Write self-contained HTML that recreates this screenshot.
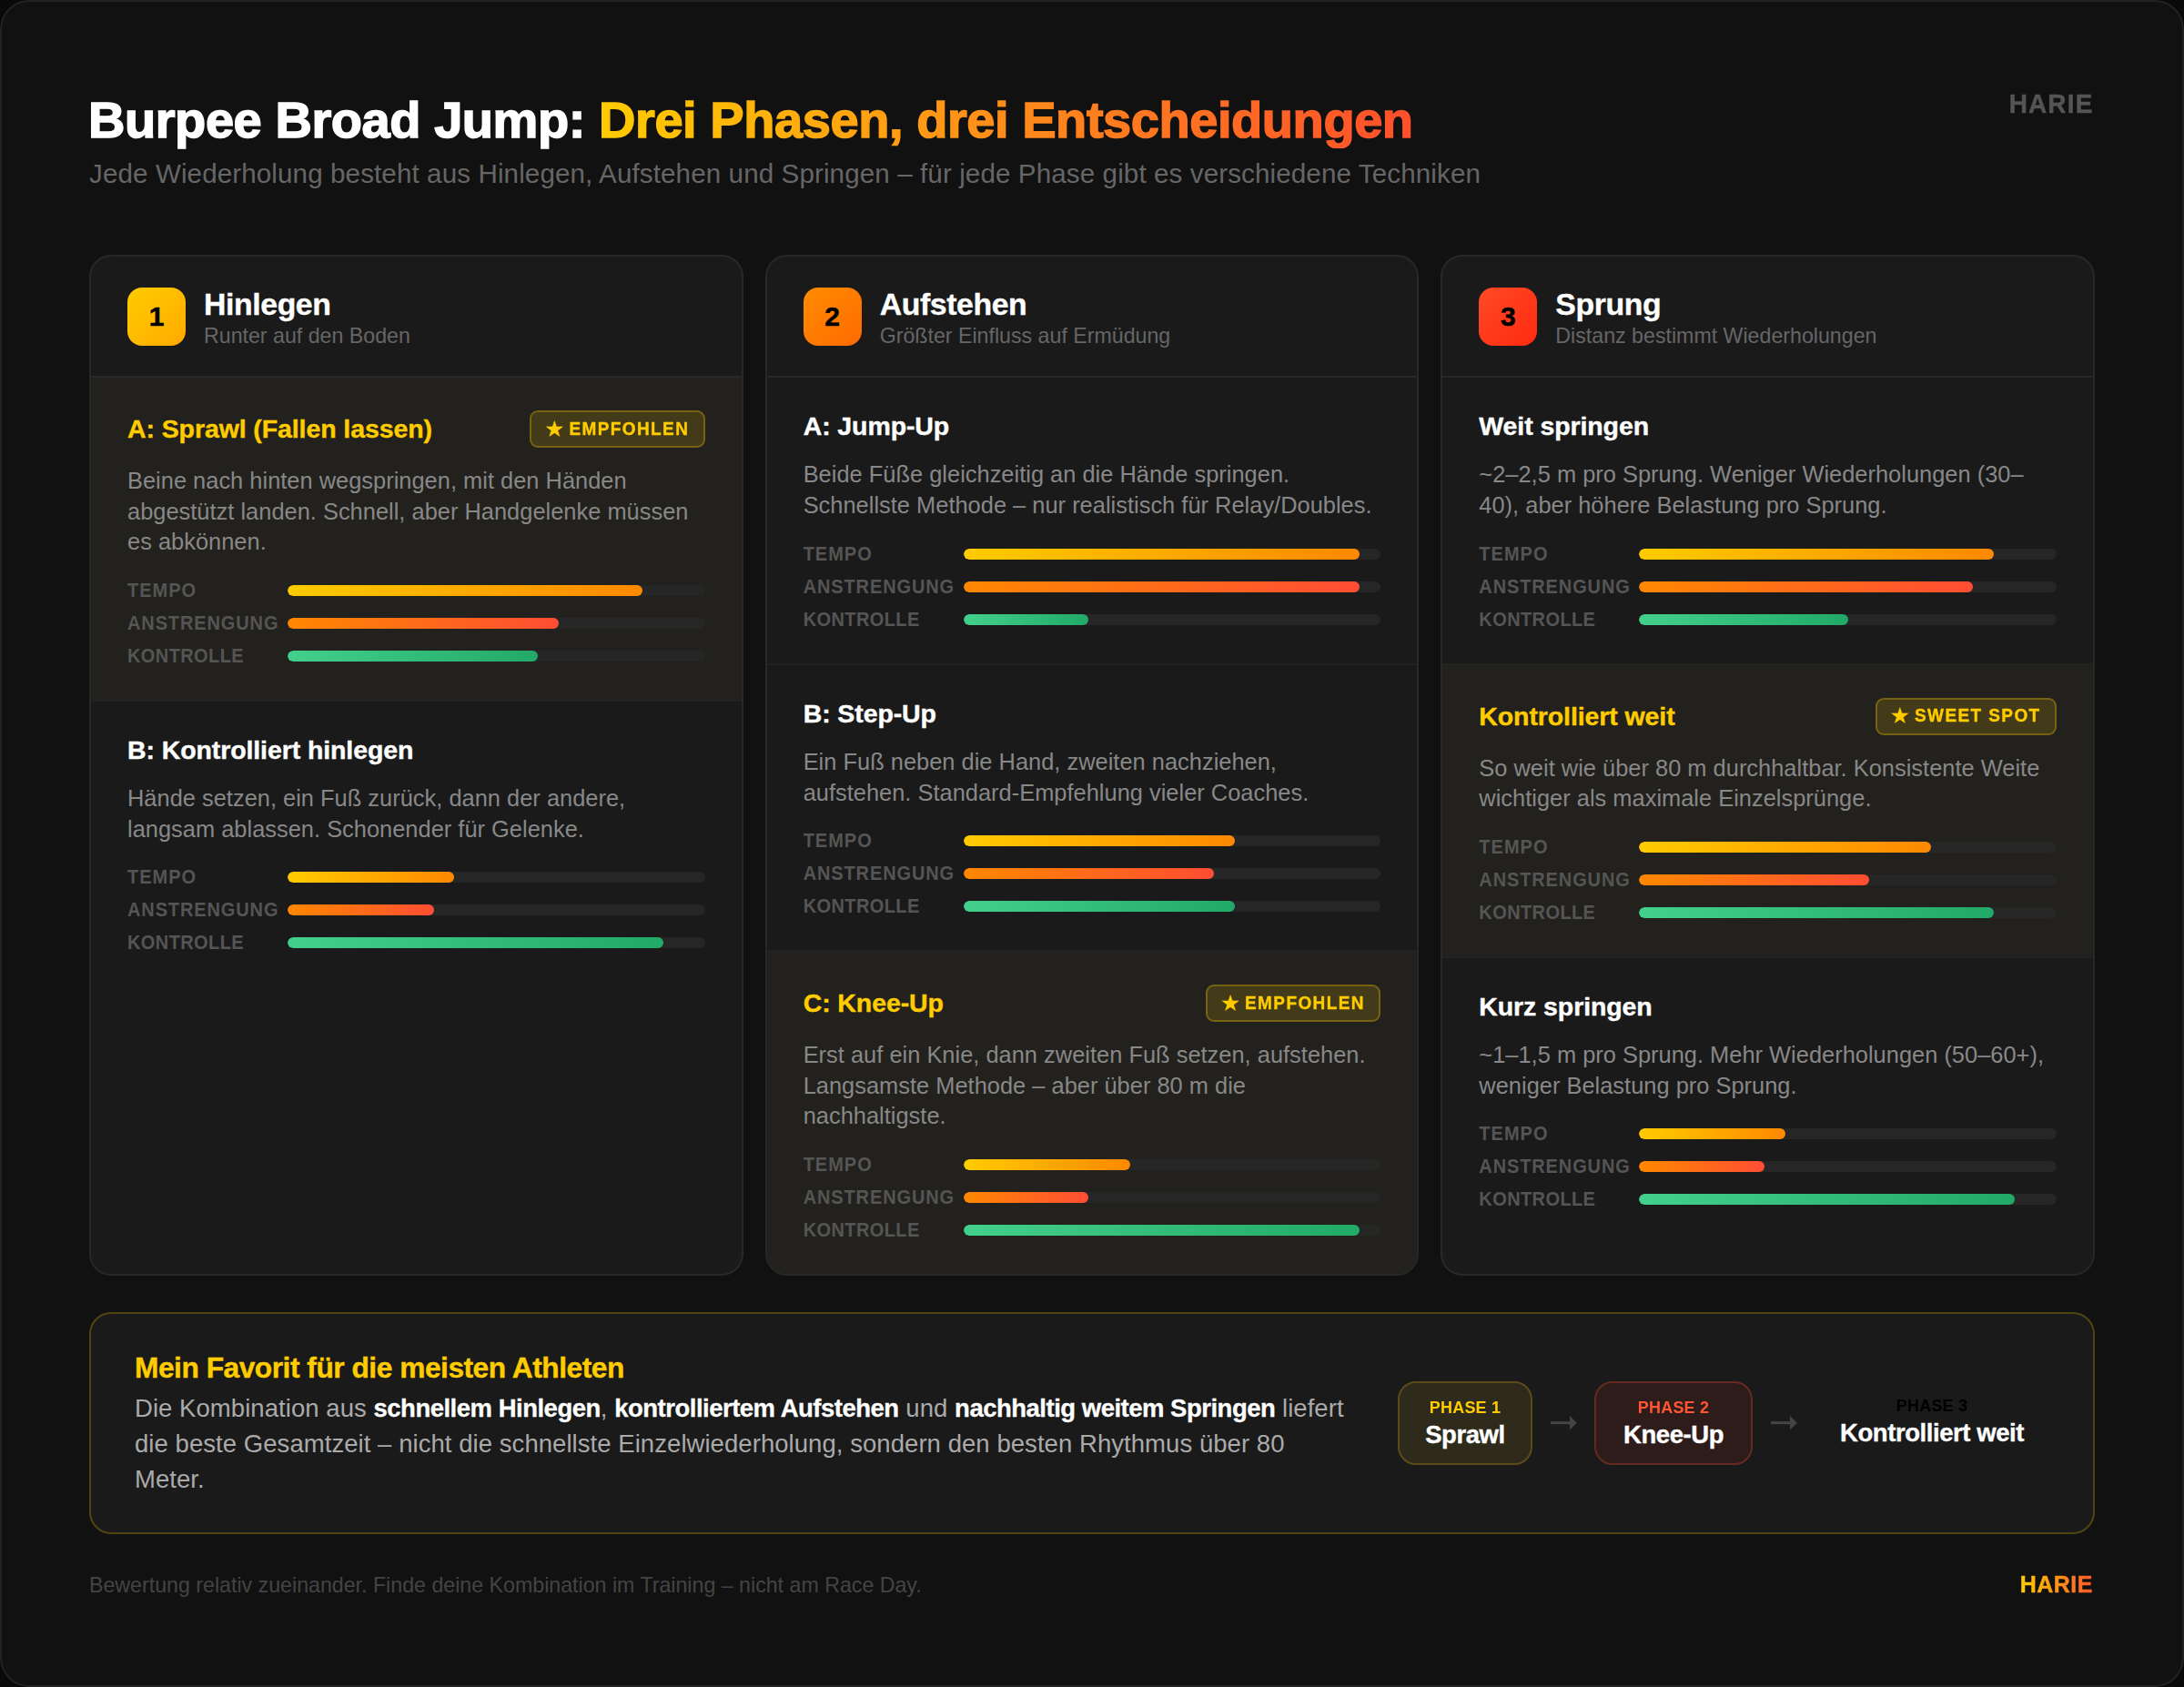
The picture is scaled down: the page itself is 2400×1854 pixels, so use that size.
<!DOCTYPE html>
<html lang="de">
<head>
<meta charset="utf-8">
<title>Burpee Broad Jump: Drei Phasen, drei Entscheidungen</title>
<style>
*{box-sizing:border-box;margin:0;padding:0}
html,body{background:#0a0a0a;width:2400px;height:1854px;overflow:hidden}
body{font-family:"Liberation Sans",Arial,sans-serif;color:#fff;-webkit-font-smoothing:antialiased}
.page{position:relative;width:2400px;height:1854px;background:#111;border-radius:32px;overflow:hidden}
.page:after{content:"";position:absolute;left:0;top:0;right:0;bottom:0;border:2px solid #232323;border-radius:32px;pointer-events:none}
.abs{position:absolute;white-space:nowrap}
h1{position:absolute;left:97px;top:97px;font-size:56px;line-height:70px;font-weight:700;letter-spacing:-0.44px;white-space:nowrap;color:#fff;-webkit-text-stroke:1.5px #fff;paint-order:stroke fill}
h1 .g{-webkit-text-stroke:1.5px transparent;background:linear-gradient(90deg,#ffcc00 0%,#ff8c1a 50%,#ff4f2b 100%);-webkit-background-clip:text;background-clip:text;color:transparent;-webkit-text-fill-color:transparent}
.sub{left:98px;top:172.7px;font-size:29.6px;line-height:36px;letter-spacing:.1px;color:#666}
.brand{-webkit-text-stroke:.4px #555;right:99.5px;top:96.5px;font-size:28px;line-height:36px;font-weight:700;letter-spacing:1.15px;transform:scaleY(1.05);color:#555}
.grid{position:absolute;left:98px;top:280px;width:2204px;height:1122px;display:grid;grid-template-columns:1fr 1fr 1fr;column-gap:24px}
.card{background:#1a1a1a;border:2px solid #282828;border-radius:24px;overflow:hidden;display:flex;flex-direction:column}
.chead{height:133px;border-bottom:2px solid #282828;padding:0 40px;display:flex;align-items:center;flex:0 0 auto}
.num{width:64px;height:64px;border-radius:16px;flex:0 0 64px;display:flex;align-items:center;justify-content:center;font-size:30px;font-weight:700;color:#000;-webkit-text-stroke:.5px #000;margin-right:20px}
.n1{background:linear-gradient(135deg,#ffcc00,#ffaa00)}
.n2{background:linear-gradient(135deg,#ff8c00,#ff6a00)}
.n3{background:linear-gradient(135deg,#ff4a26,#ff2a10)}
.ct{-webkit-text-stroke:.35px #fff;font-size:33.8px;line-height:38px;letter-spacing:-.4px;margin-top:2.5px;font-weight:700;color:#fff;white-space:nowrap}
.cs{font-size:23.2px;line-height:28px;letter-spacing:0;color:#666;white-space:nowrap;margin-top:1.5px}
.sec{padding:36px 40px;border-bottom:2px solid #222;flex:0 0 auto}
.sec.last{border-bottom:none}
.sec.hl{background:#22211d}
.oh{display:flex;align-items:center;justify-content:space-between;min-height:34.4px;margin-bottom:20px}
.ot{position:relative;top:0;-webkit-text-stroke:.4px #fff;font-size:28.5px;line-height:34.4px;letter-spacing:-.1px;font-weight:700;color:#fff;white-space:nowrap}
.hl .ot{color:#ffcc00;-webkit-text-stroke-color:#ffcc00}
.bdg{height:41px;border:2px solid rgba(255,204,0,.28);background:rgba(255,204,0,.15);border-radius:9px;padding:0 15.4px;display:flex;align-items:center;font-size:19px;font-weight:700;letter-spacing:1.4px;color:#ffcc00;white-space:nowrap;-webkit-text-stroke:.35px #ffcc00}
.bdg .bt{display:inline-block;transform:scaleY(1.06);transform-origin:0 50%}
.bdg .st{-webkit-text-stroke:0;font-family:"DejaVu Sans",sans-serif;font-weight:400;font-size:25px;line-height:24px;letter-spacing:0;margin-right:5px;margin-left:-1.3px;position:relative;top:0px}
.od{font-size:25.4px;line-height:33.6px;letter-spacing:.02px;color:#888;white-space:nowrap}
.bars{margin-top:24px}
.br{display:flex;align-items:center;height:24px;margin-bottom:12px}
.br:last-child{margin-bottom:0}
.bl{flex:0 0 176px;font-size:20px;line-height:24px;font-weight:700;letter-spacing:1px;transform:translateY(-1px) scaleY(1.09);transform-origin:0 50%;color:#555;white-space:nowrap}
.bl.la{letter-spacing:.88px}
.bl.lk{letter-spacing:.4px}
.tr{flex:1 1 auto;height:12px;border-radius:6px;background:#262626;overflow:hidden}
.fl{height:12px;border-radius:6px}
.t{background:linear-gradient(90deg,#ffcc00,#ff8800)}
.a{background:linear-gradient(90deg,#ff8800,#ff4d33)}
.k{background:linear-gradient(90deg,#43d08c,#22a968)}

.sum{position:absolute;left:98px;top:1442px;width:2204px;height:244px;border:2px solid rgba(255,204,0,.24);border-radius:24px;background:#1a1a1a}
.sumt{-webkit-text-stroke:.4px #ffcc00;left:48px;top:39px;font-size:31.7px;line-height:40px;letter-spacing:-.47px;font-weight:700;color:#ffcc00}
.sumb{left:48px;top:84px;font-size:27.5px;line-height:39px;letter-spacing:.055px;color:#aaa}
.sumb b{color:#fff;font-weight:700;-webkit-text-stroke:.3px #fff;letter-spacing:-.5px}
.pill{position:absolute;top:74px;height:91.5px;border-radius:20px;border:2px solid;text-align:center;white-space:nowrap}
.pill .pl{font-size:18px;line-height:24px;font-weight:700;letter-spacing:.2px;transform:scaleY(1.05);margin-top:14.5px}
.pill .pv{-webkit-text-stroke:.35px #fff;font-size:27.5px;line-height:32px;font-weight:700;letter-spacing:-.43px;color:#fff;margin-top:2px}
.p1{left:1436px;width:148px;background:#2e2a1c;border-color:#5b4b1b}
.p1 .pl{color:#ffcc00}
.p2{left:1652px;width:174px;background:#2e1c1a;border-color:#652a21}
.p2 .pl{color:#ff5533}
.p3{left:1894px;width:258px;border-color:transparent;top:72px}
.p3 .pl{color:#000}
.arr{position:absolute;top:106px;width:30px;height:30px}
.foot{left:98px;top:1727px;font-size:23.2px;line-height:30px;letter-spacing:0;color:#444}
.fbrand{-webkit-text-stroke:.5px transparent;right:100px;top:1723px;font-size:25px;line-height:36px;font-weight:700;letter-spacing:.5px;transform:scaleY(1.045);background:linear-gradient(90deg,#ffcc00,#ff5a2a);-webkit-background-clip:text;background-clip:text;color:transparent;-webkit-text-fill-color:transparent}
</style>
</head>
<body>
<div class="page">
<h1>Burpee Broad Jump: <span class="g">Drei Phasen, drei Entscheidungen</span></h1>
<div class="abs sub">Jede Wiederholung besteht aus Hinlegen, Aufstehen und Springen – für jede Phase gibt es verschiedene Techniken</div>
<div class="abs brand">HARIE</div>
<div class="grid">
<div class="card">
<div class="chead"><div class="num n1">1</div><div><div class="ct">Hinlegen</div><div class="cs">Runter auf den Boden</div></div></div>
<div class="sec hl"><div class="oh"><div class="ot">A: Sprawl (Fallen lassen)</div><div class="bdg"><span class="st">★</span><span class="bt">EMPFOHLEN</span></div></div><div class="od">Beine nach hinten wegspringen, mit den Händen<br>abgestützt landen. Schnell, aber Handgelenke müssen<br>es abkönnen.</div><div class="bars"><div class="br"><div class="bl">TEMPO</div><div class="tr"><div class="fl t" style="width:85%"></div></div></div><div class="br"><div class="bl la">ANSTRENGUNG</div><div class="tr"><div class="fl a" style="width:65%"></div></div></div><div class="br"><div class="bl lk">KONTROLLE</div><div class="tr"><div class="fl k" style="width:60%"></div></div></div></div></div>
<div class="sec last"><div class="oh"><div class="ot">B: Kontrolliert hinlegen</div></div><div class="od">Hände setzen, ein Fuß zurück, dann der andere,<br>langsam ablassen. Schonender für Gelenke.</div><div class="bars"><div class="br"><div class="bl">TEMPO</div><div class="tr"><div class="fl t" style="width:40%"></div></div></div><div class="br"><div class="bl la">ANSTRENGUNG</div><div class="tr"><div class="fl a" style="width:35%"></div></div></div><div class="br"><div class="bl lk">KONTROLLE</div><div class="tr"><div class="fl k" style="width:90%"></div></div></div></div></div>
</div>
<div class="card">
<div class="chead"><div class="num n2">2</div><div><div class="ct">Aufstehen</div><div class="cs">Größter Einfluss auf Ermüdung</div></div></div>
<div class="sec"><div class="oh"><div class="ot">A: Jump-Up</div></div><div class="od">Beide Füße gleichzeitig an die Hände springen.<br>Schnellste Methode – nur realistisch für Relay/Doubles.</div><div class="bars"><div class="br"><div class="bl">TEMPO</div><div class="tr"><div class="fl t" style="width:95%"></div></div></div><div class="br"><div class="bl la">ANSTRENGUNG</div><div class="tr"><div class="fl a" style="width:95%"></div></div></div><div class="br"><div class="bl lk">KONTROLLE</div><div class="tr"><div class="fl k" style="width:30%"></div></div></div></div></div>
<div class="sec"><div class="oh"><div class="ot">B: Step-Up</div></div><div class="od">Ein Fuß neben die Hand, zweiten nachziehen,<br>aufstehen. Standard-Empfehlung vieler Coaches.</div><div class="bars"><div class="br"><div class="bl">TEMPO</div><div class="tr"><div class="fl t" style="width:65%"></div></div></div><div class="br"><div class="bl la">ANSTRENGUNG</div><div class="tr"><div class="fl a" style="width:60%"></div></div></div><div class="br"><div class="bl lk">KONTROLLE</div><div class="tr"><div class="fl k" style="width:65%"></div></div></div></div></div>
<div class="sec hl last"><div class="oh"><div class="ot">C: Knee-Up</div><div class="bdg"><span class="st">★</span><span class="bt">EMPFOHLEN</span></div></div><div class="od">Erst auf ein Knie, dann zweiten Fuß setzen, aufstehen.<br>Langsamste Methode – aber über 80 m die<br>nachhaltigste.</div><div class="bars"><div class="br"><div class="bl">TEMPO</div><div class="tr"><div class="fl t" style="width:40%"></div></div></div><div class="br"><div class="bl la">ANSTRENGUNG</div><div class="tr"><div class="fl a" style="width:30%"></div></div></div><div class="br"><div class="bl lk">KONTROLLE</div><div class="tr"><div class="fl k" style="width:95%"></div></div></div></div></div>
</div>
<div class="card">
<div class="chead"><div class="num n3">3</div><div><div class="ct">Sprung</div><div class="cs">Distanz bestimmt Wiederholungen</div></div></div>
<div class="sec"><div class="oh"><div class="ot">Weit springen</div></div><div class="od">~2–2,5 m pro Sprung. Weniger Wiederholungen (30–<br>40), aber höhere Belastung pro Sprung.</div><div class="bars"><div class="br"><div class="bl">TEMPO</div><div class="tr"><div class="fl t" style="width:85%"></div></div></div><div class="br"><div class="bl la">ANSTRENGUNG</div><div class="tr"><div class="fl a" style="width:80%"></div></div></div><div class="br"><div class="bl lk">KONTROLLE</div><div class="tr"><div class="fl k" style="width:50%"></div></div></div></div></div>
<div class="sec hl"><div class="oh"><div class="ot">Kontrolliert weit</div><div class="bdg"><span class="st">★</span><span class="bt">SWEET SPOT</span></div></div><div class="od">So weit wie über 80 m durchhaltbar. Konsistente Weite<br>wichtiger als maximale Einzelsprünge.</div><div class="bars"><div class="br"><div class="bl">TEMPO</div><div class="tr"><div class="fl t" style="width:70%"></div></div></div><div class="br"><div class="bl la">ANSTRENGUNG</div><div class="tr"><div class="fl a" style="width:55%"></div></div></div><div class="br"><div class="bl lk">KONTROLLE</div><div class="tr"><div class="fl k" style="width:85%"></div></div></div></div></div>
<div class="sec last"><div class="oh"><div class="ot">Kurz springen</div></div><div class="od">~1–1,5 m pro Sprung. Mehr Wiederholungen (50–60+),<br>weniger Belastung pro Sprung.</div><div class="bars"><div class="br"><div class="bl">TEMPO</div><div class="tr"><div class="fl t" style="width:35%"></div></div></div><div class="br"><div class="bl la">ANSTRENGUNG</div><div class="tr"><div class="fl a" style="width:30%"></div></div></div><div class="br"><div class="bl lk">KONTROLLE</div><div class="tr"><div class="fl k" style="width:90%"></div></div></div></div></div>
</div>
</div>
<div class="sum">
<div class="abs sumt">Mein Favorit für die meisten Athleten</div>
<div class="abs sumb">Die Kombination aus <b>schnellem Hinlegen</b>, <b>kontrolliertem Aufstehen</b> und <b>nachhaltig weitem Springen</b> liefert<br>die beste Gesamtzeit – nicht die schnellste Einzelwiederholung, sondern den besten Rhythmus über 80<br>Meter.</div>
<div class="pill p1"><div class="pl">PHASE 1</div><div class="pv">Sprawl</div></div>
<svg class="arr" style="left:1604px" viewBox="0 0 30 30"><path d="M0 12.1H22V15.2H0Z" fill="#444"/><path d="M21 6L28.8 13.7L21 21.4Z" fill="#444"/></svg>
<div class="pill p2"><div class="pl">PHASE 2</div><div class="pv">Knee-Up</div></div>
<svg class="arr" style="left:1846px" viewBox="0 0 30 30"><path d="M0 12.1H22V15.2H0Z" fill="#444"/><path d="M21 6L28.8 13.7L21 21.4Z" fill="#444"/></svg>
<div class="pill p3"><div class="pl">PHASE 3</div><div class="pv">Kontrolliert weit</div></div>
</div>
<div class="abs foot">Bewertung relativ zueinander. Finde deine Kombination im Training – nicht am Race Day.</div>
<div class="abs fbrand">HARIE</div>
</div>
</body>
</html>
